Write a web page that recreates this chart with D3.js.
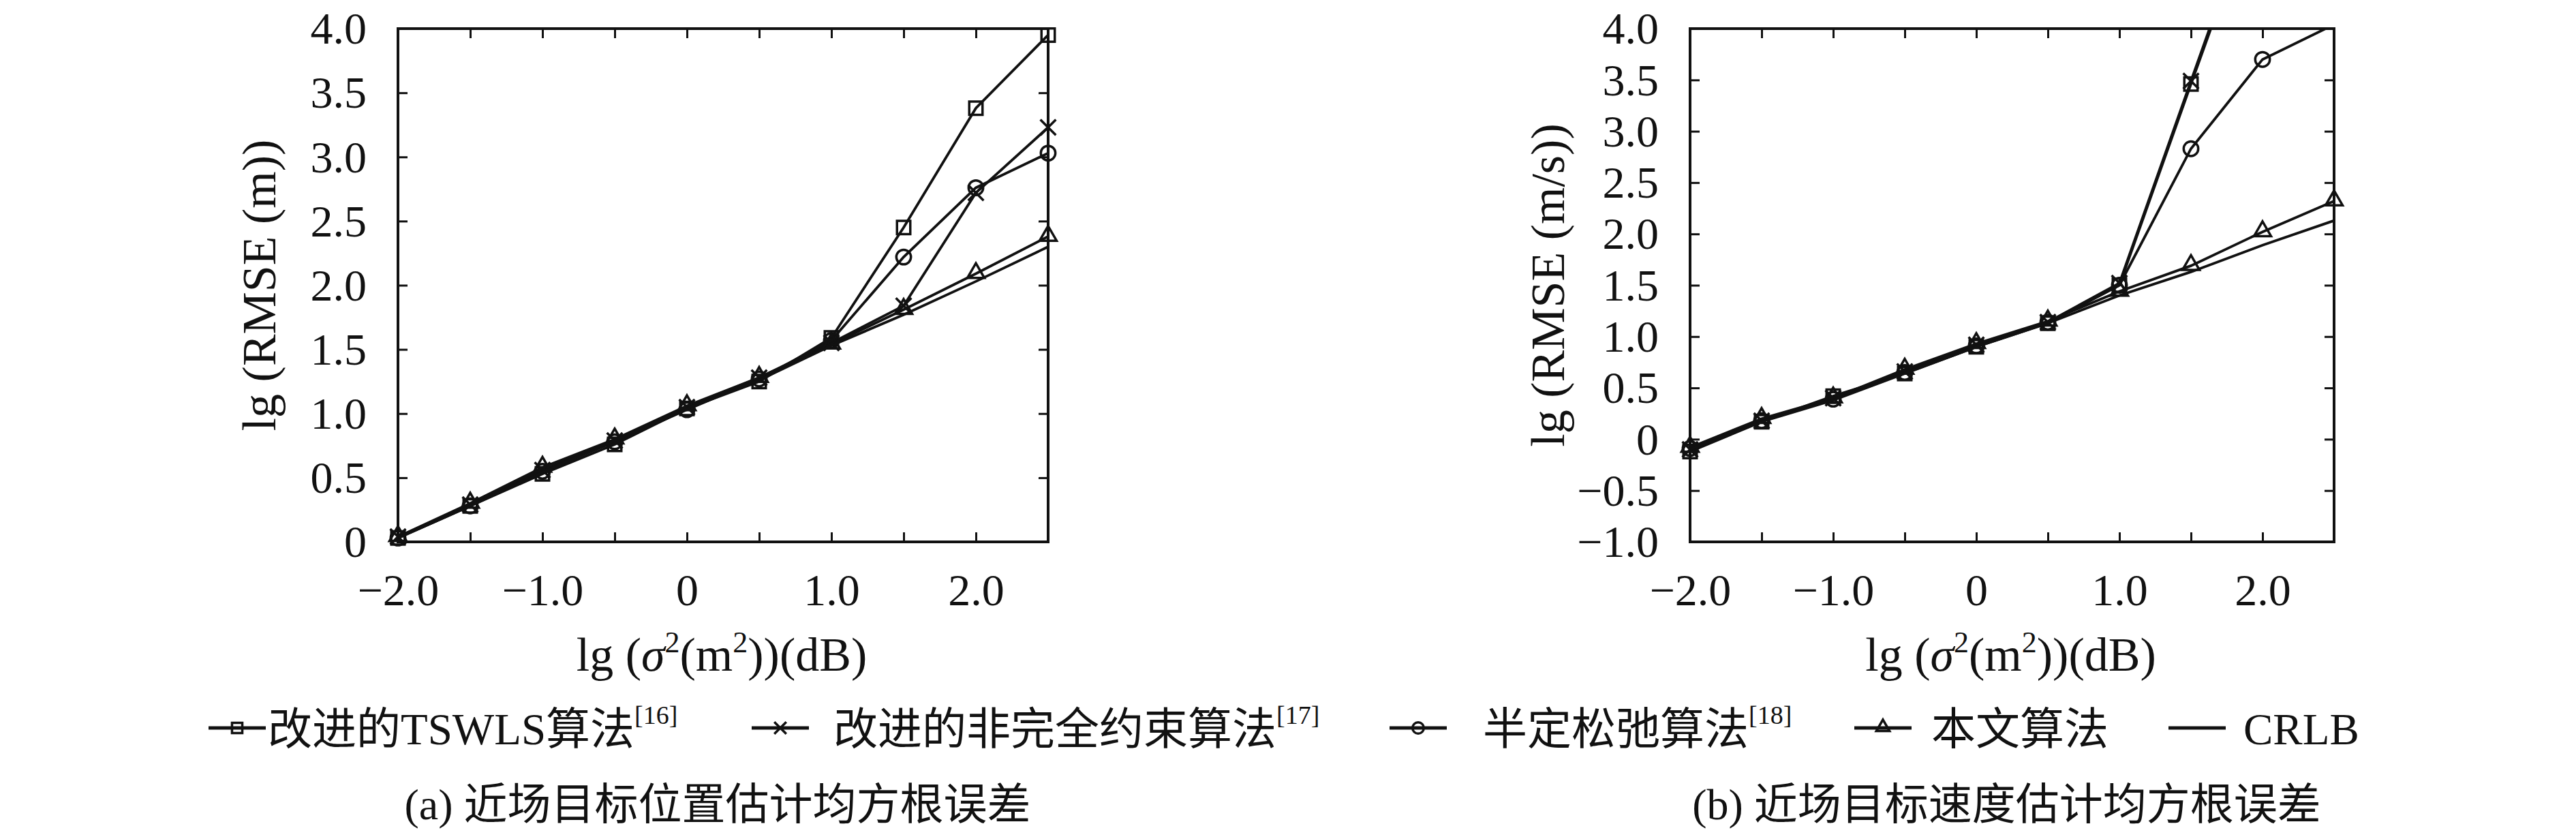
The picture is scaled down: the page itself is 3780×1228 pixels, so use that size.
<html>

<head>
    <meta charset="utf-8">
    <script src="https://d3js.org/d3.v7.min.js"></script>
    <style>
        body {
            margin: 0;
            background: #ffffff;
        }

        svg text {
            font-family: "Liberation Serif", "Noto Sans CJK SC", serif;
            fill: #111;
        }

        .axis .domain {
            stroke: none;
        }

        .axis line {
            stroke: #111;
            stroke-width: 3;
        }
    </style>
</head>

<body>
    <svg width="3780" height="1228"></svg>

    <script>
        // x values shared by both panels
        const xValues = [-2.0, -1.5, -1.0, -0.5, 0, 0.5, 1.0, 1.5, 2.0, 2.5];

        // (a) position RMSE, lg(m)
        const tswlsPos = [0.03, 0.28, 0.53, 0.76, 1.04, 1.25, 1.59, 2.45, 3.38, 3.95];
        const incompletePos = [0.04, 0.29, 0.56, 0.79, 1.05, 1.28, 1.55, 1.84, 2.72, 3.23];
        const sdrPos = [0.03, 0.28, 0.55, 0.78, 1.03, 1.27, 1.57, 2.22, 2.76, 3.03];
        const proposedPos = [0.04, 0.30, 0.58, 0.80, 1.06, 1.28, 1.54, 1.81, 2.09, 2.38];
        const crlbPos = [0.03, 0.28, 0.54, 0.79, 1.04, 1.26, 1.53, 1.77, 2.03, 2.30];

        // (b) velocity RMSE, lg(m/s)
        const tswlsVel = [-0.12, 0.17, 0.42, 0.64, 0.90, 1.13, 1.50, 3.46, 5.40, 6.60];
        const incompleteVel = [-0.10, 0.18, 0.40, 0.66, 0.92, 1.14, 1.52, 3.49, 5.45, 6.70];
        const sdrVel = [-0.09, 0.18, 0.39, 0.65, 0.91, 1.14, 1.50, 2.83, 3.70, 4.04];
        const proposedVel = [-0.08, 0.20, 0.40, 0.68, 0.93, 1.15, 1.44, 1.69, 2.02, 2.32];
        const crlbVel = [-0.10, 0.17, 0.38, 0.64, 0.90, 1.13, 1.40, 1.63, 1.89, 2.13];

        // ticks and labels
        const xTicks = [-2.0, -1.5, -1.0, -0.5, 0, 0.5, 1.0, 1.5, 2.0, 2.5];
        const xLabelled = [-2.0, -1.0, 0, 1.0, 2.0];
        const yTicksPos = [0, 0.5, 1.0, 1.5, 2.0, 2.5, 3.0, 3.5, 4.0];
        const yTicksVel = [-1.0, -0.5, 0, 0.5, 1.0, 1.5, 2.0, 2.5, 3.0, 3.5, 4.0];

        const seriesNames = ["改进的TSWLS算法", "改进的非完全约束算法", "半定松弛算法", "本文算法", "CRLB"];
        const seriesRefs = ["[16]", "[17]", "[18]", "", ""];
        const seriesMarkers = ["square", "times", "circle", "triangle", "none"];

        const captions = ["(a) 近场目标位置估计均方根误差", "(b) 近场目标速度估计均方根误差"];
        const yTitles = ["lg (RMSE (m))", "lg (RMSE (m/s))"];

        const svg = d3.select("svg");
        const plotTop = 42, plotBottom = 795;
        const tickLen = 14;

        const fmt = v => v === 0 ? "0" : d3.format(".1f")(v);

        const symbolTypes = {
            square: d3.symbolSquare,
            circle: d3.symbolCircle,
            triangle: d3.symbolTriangle,
            times: d3.symbolTimes || d3.symbolX
        };
        const symbolSizes = { square: 380, circle: 360, triangle: 270, times: 340 };

        function drawMarker(g, type, x, y, scale) {
            if (type === "none") return;
            const path = d3.symbol().type(symbolTypes[type]).size(symbolSizes[type] * scale)();
            g.append("path")
                .attr("d", path)
                .attr("transform", `translate(${x},${y})` + (type === "triangle" ? " translate(0,-1)" : ""))
                .attr("fill", "none")
                .attr("stroke", "#111")
                .attr("stroke-width", 3.5);
        }

        function drawPanel(p) {
            const xScale = d3.scaleLinear().domain([-2.0, 2.5]).range([p.left, p.right]);
            const yScale = d3.scaleLinear().domain(p.yDomain).range([plotBottom, plotTop]);

            const clipId = "clip" + p.id;
            svg.append("clipPath").attr("id", clipId)
                .append("rect")
                .attr("x", p.left).attr("y", plotTop)
                .attr("width", p.right - p.left).attr("height", plotBottom - plotTop);

            // inward ticks on all four sides
            const bottomAxis = d3.axisBottom(xScale).tickValues(xTicks).tickSize(-tickLen)
                .tickFormat(d => xLabelled.includes(d) ? fmt(d) : "");
            const gb = svg.append("g").attr("class", "axis")
                .attr("transform", `translate(0,${plotBottom})`).call(bottomAxis);
            gb.selectAll("text").attr("y", 93).attr("dy", 0).attr("font-size", 66).attr("fill", "#111");

            svg.append("g").attr("class", "axis")
                .attr("transform", `translate(0,${plotTop})`)
                .call(d3.axisTop(xScale).tickValues(xTicks).tickSize(-tickLen).tickFormat(""));

            const leftAxis = d3.axisLeft(yScale).tickValues(p.yTicks).tickSize(-tickLen).tickFormat(fmt);
            const gl = svg.append("g").attr("class", "axis")
                .attr("transform", `translate(${p.left},0)`).call(leftAxis);
            gl.selectAll("text").attr("x", -46).attr("dy", "0.33em").attr("font-size", 66).attr("fill", "#111");

            svg.append("g").attr("class", "axis")
                .attr("transform", `translate(${p.right},0)`)
                .call(d3.axisRight(yScale).tickValues(p.yTicks).tickSize(-tickLen).tickFormat(""));

            // frame
            svg.append("rect")
                .attr("x", p.left).attr("y", plotTop)
                .attr("width", p.right - p.left).attr("height", plotBottom - plotTop)
                .attr("fill", "none").attr("stroke", "#111").attr("stroke-width", 4);

            const line = d3.line()
                .x(d => xScale(d[0]))
                .y(d => yScale(d[1]));

            const plot = svg.append("g");
            p.series.forEach((vals, i) => {
                const pts = xValues.map((x, j) => [x, vals[j]]);
                plot.append("path")
                    .datum(pts)
                    .attr("d", line)
                    .attr("clip-path", `url(#${clipId})`)
                    .attr("fill", "none")
                    .attr("stroke", "#111")
                    .attr("stroke-width", 3.8);
                pts.filter(d => d[1] <= p.yDomain[1])
                    .forEach(d => drawMarker(plot, seriesMarkers[i], xScale(d[0]), yScale(d[1]), 1));
            });

            // axis titles
            const xt = svg.append("text")
                .attr("x", (p.left + p.right) / 2 - 2)
                .attr("y", 984)
                .attr("text-anchor", "middle")
                .attr("font-size", 70);
            xt.append("tspan").text("lg (");
            xt.append("tspan").attr("font-style", "italic").text("σ");
            xt.append("tspan").attr("font-size", 44).attr("dy", -27).text("2");
            xt.append("tspan").attr("dy", 27).text("(m");
            xt.append("tspan").attr("font-size", 44).attr("dy", -27).text("2");
            xt.append("tspan").attr("dy", 27).text("))(dB)");

            svg.append("text")
                .attr("transform", `translate(${p.titleX},${(plotTop + plotBottom) / 2}) rotate(-90)`)
                .attr("text-anchor", "middle")
                .attr("dy", "0.35em")
                .attr("font-size", 70)
                .text(p.yTitle);

            svg.append("text")
                .attr("x", (p.left + p.right) / 2 - 8)
                .attr("y", 1202)
                .attr("text-anchor", "middle")
                .attr("font-size", 64)
                .text(p.caption);
        }

        drawPanel({
            id: "a", left: 584, right: 1538, yDomain: [0, 4.0], yTicks: yTicksPos,
            series: [tswlsPos, incompletePos, sdrPos, proposedPos, crlbPos],
            yTitle: yTitles[0], caption: captions[0], titleX: 379
        });

        drawPanel({
            id: "b", left: 2480, right: 3425, yDomain: [-1.0, 4.0], yTicks: yTicksVel,
            series: [tswlsVel, incompleteVel, sdrVel, proposedVel, crlbVel],
            yTitle: yTitles[1], caption: captions[1], titleX: 2270
        });

        // legend
        const legendSampleX = [306, 1103, 2039, 2721, 3182];
        const legendTextX = [393, 1223, 2176, 2834, 3292];
        const legendY = 1068;
        const legend = svg.append("g");

        seriesNames.forEach((name, i) => {
            const x0 = legendSampleX[i];
            legend.append("line")
                .attr("x1", x0).attr("x2", x0 + 84)
                .attr("y1", legendY).attr("y2", legendY)
                .attr("stroke", "#111").attr("stroke-width", 5);
            drawMarker(legend, seriesMarkers[i], x0 + 42, legendY, 0.6);

            const t = legend.append("text")
                .attr("x", legendTextX[i])
                .attr("y", legendY + 24)
                .attr("font-size", 65)
                .text(name);
            if (seriesRefs[i]) {
                t.append("tspan")
                    .attr("font-size", 38)
                    .attr("dy", -30)
                    .text(seriesRefs[i]);
            }
        });
    </script>
</body>

</html>
